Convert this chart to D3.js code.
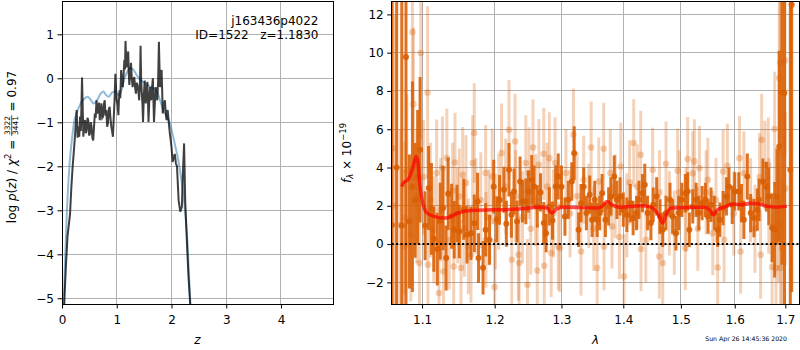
<!DOCTYPE html>
<html>
<head>
<meta charset="utf-8">
<script src="https://cdn.jsdelivr.net/npm/d3@7"></script>
<style>
  body { margin: 0; background: #fff; }
  svg text { font-family: "DejaVu Sans", sans-serif; white-space: pre; }
</style>
</head>
<body>
<svg id="chart" width="800" height="350"></svg>
<script>
// tick values
const zTicks = [0, 1, 2, 3, 4];
const logpTicks = [-5, -4, -3, -2, -1, 0, 1];
const lamTicks = [1.1, 1.2, 1.3, 1.4, 1.5, 1.6, 1.7];
const fluxTicks = [-2, 0, 2, 4, 6, 8, 10, 12];

// texts
const objName = "j163436p4022";
const objInfo = "ID=1522   z=1.1830";
const chiNum = "3322", chiDen = "3441", chiVal = "0.97";
const stamp = "Sun Apr 26 14:45:36 2020";

// p(z): smooth (blue) and raw (dark) curves, [z, log p]
const pzSmooth = [[0.0,-5.6],[0.03,-5.13],[0.06,-4.0],[0.09,-3.0],[0.135,-2.0],[0.18,-1.4],[0.22,-1.0],[0.27,-0.78],
  [0.33,-0.6],[0.40,-0.47],[0.47,-0.42],[0.53,-0.5],[0.58,-0.57],[0.64,-0.5],[0.70,-0.36],[0.755,-0.3],[0.80,-0.37],
  [0.85,-0.42],[0.91,-0.33],[0.97,-0.3],[1.03,-0.38],[1.08,-0.3],[1.13,-0.05],[1.18,0.12],[1.243,0.23],[1.30,0.2],
  [1.36,0.08],[1.43,-0.04],[1.50,-0.1],[1.60,-0.18],[1.73,-0.3],[1.85,-0.72],[1.97,-1.02],[2.07,-1.55],[2.13,-1.9],
  [2.18,-2.3],[2.24,-2.9],[2.29,-3.7],[2.34,-5.0],[2.36,-5.6]];

const pzRaw = [[0.03,-5.6],[0.045,-5.0],[0.07,-4.3],[0.10,-3.6],[0.146,-3.1],[0.17,-2.5],[0.195,-2.0],[0.22,-1.6],
  [0.238,-1.3],[0.25,-1.05],[0.268,-0.72],[0.285,-1.35],[0.30,-1.1],[0.315,-1.33],[0.33,-0.87],[0.345,-1.2],[0.366,0.02],
  [0.39,-1.33],[0.405,-1.0],[0.42,-0.95],[0.435,-1.25],[0.45,-1.18],[0.465,-0.9],[0.48,-0.95],[0.495,-1.3],[0.51,-1.26],
  [0.525,-1.0],[0.54,-1.1],[0.555,-1.35],[0.57,-1.41],[0.585,-1.1],[0.60,-0.8],[0.615,-0.9],[0.63,-0.5],[0.645,-0.8],
  [0.66,-0.72],[0.675,-0.55],[0.69,-0.95],[0.705,-0.75],[0.72,-0.57],[0.735,-0.9],[0.75,-0.87],[0.765,-0.6],[0.78,-0.5],
  [0.795,-0.85],[0.81,-0.72],[0.825,-1.1],[0.84,-1.02],[0.855,-0.7],[0.87,-0.65],[0.885,-0.9],[0.90,-1.1],[0.915,-1.2],
  [0.93,-1.33],[0.945,-0.9],[0.96,-0.5],[0.975,0.1],[0.99,-0.3],[1.0,-0.5],[1.015,-0.6],[1.03,-0.84],[1.04,-0.5],
  [1.05,-0.27],[1.065,-0.45],[1.08,0.19],[1.095,-0.1],[1.11,-0.2],[1.125,0.1],[1.14,0.42],[1.15,0.2],[1.16,0.85],
  [1.17,0.5],[1.18,0.25],[1.195,0.45],[1.21,0.61],[1.22,0.1],[1.23,-0.15],[1.245,0.1],[1.26,0.35],[1.275,0.0],
  [1.29,-0.2],[1.305,-0.05],[1.32,0.03],[1.335,-0.2],[1.35,-0.35],[1.365,-0.1],[1.38,-0.15],[1.395,-0.3],[1.41,-0.5],
  [1.425,-0.1],[1.435,0.74],[1.445,0.0],[1.455,-0.27],[1.47,-0.6],[1.48,-0.99],[1.495,-0.4],[1.51,-0.05],[1.52,-0.3],
  [1.53,-0.57],[1.545,-0.3],[1.56,-0.08],[1.57,-0.5],[1.58,-0.99],[1.595,-0.5],[1.61,-0.2],[1.62,-0.35],[1.63,-0.5],
  [1.645,-0.2],[1.66,0.0],[1.67,-0.5],[1.68,-0.99],[1.695,-0.6],[1.71,-0.2],[1.725,-0.35],[1.74,-0.5],[1.755,-0.1],
  [1.77,0.83],[1.78,0.3],[1.79,-0.2],[1.805,0.0],[1.82,0.19],[1.83,-0.3],[1.84,-0.8],[1.86,-0.6],[1.88,-0.5],
  [1.895,-0.8],[1.91,-0.95],[1.93,-0.72],[1.95,-1.0],[1.97,-1.26],[1.985,-1.4],[2.0,-1.56],[2.02,-1.9],[2.04,-1.8],
  [2.06,-1.72],[2.08,-1.93],[2.10,-2.0],[2.13,-2.77],[2.16,-3.03],[2.19,-2.92],[2.21,-2.1],[2.23,-1.48],[2.25,-2.77],
  [2.28,-3.67],[2.31,-4.5],[2.34,-5.1],[2.36,-5.6]];

// spectrum, [lambda, flux, error]: light (fine sampling) and dark (binned)
const specLight = [[1.062,5.0,9],[1.065,2.0,10],[1.0714,1.0,5],[1.0757,-0.12,4],[1.0779,1.36,4],[1.0801,3.83,4],
  [1.0853,0.5,3.5],[1.0874,11.08,4],[1.0887,7.31,4],[1.0931,2.5,3.5],[1.0965,-0.99,3.5],[1.0983,9.98,4.5],[1.1018,3.5,3],
  [1.1073,7.92,4.5],[1.1078,-1.08,3],[1.111,2.3,3],[1.1156,0.75,2.8],[1.1194,3.71,2.8],[1.1225,-2.56,2.8],[1.1249,1.8,2.7],
  [1.1272,3.97,2.7],[1.1286,-1.43,2.6],[1.1332,4.49,2.6],[1.1364,0.22,2.6],[1.1411,2.8,2.5],[1.1425,-1.17,2.5],
  [1.1443,4.26,2.6],[1.148,1.5,2.5],[1.1502,2.49,2.5],[1.1526,-1.25,2.5],[1.1549,3.62,2.5],[1.1571,0.8,2.5],
  [1.1595,3.19,2.5],[1.1627,-0.12,2.5],[1.1664,-0.56,2.5],[1.1687,4.23,2.5],[1.171,5.8,2.6],[1.1733,2.0,2.5],
  [1.1802,2.3,2.5],[1.1871,3.71,2.5],[1.1875,0.22,2.5],[1.1917,1.4,2.5],[1.1964,3.53,2.5],[1.200,-2.25,2.5],
  [1.201,1.18,2.5],[1.2059,2.2,2.5],[1.2099,4.75,2.6],[1.2159,3.0,2.5],[1.2208,5.97,2.6],[1.2248,-0.82,2.4],
  [1.2297,5.36,2.5],[1.2307,2.5,2.4],[1.2347,-0.56,2.4],[1.2356,-0.99,2.4],[1.2407,1.4,2.4],[1.2456,4.23,2.5],
  [1.2481,-2.13,2.4],[1.2504,3.71,2.4],[1.253,0.8,2.4],[1.2564,5.05,2.5],[1.2604,2.3,2.4],[1.2629,-1.38,2.4],
  [1.2653,4.14,2.4],[1.2727,4.72,2.4],[1.2735,-1.13,2.3],[1.2777,3.0,2.3],[1.2812,4.49,2.4],[1.2841,-0.47,2.3],
  [1.2876,1.6,2.3],[1.2901,4.23,2.4],[1.295,-0.12,2.3],[1.2975,-0.21,2.3],[1.307,3.71,2.3],[1.3135,1.6,2.3],
  [1.3188,5.71,2.4],[1.3244,2.5,2.3],[1.3308,-0.39,2.3],[1.3351,3.36,2.3],[1.3432,2.0,2.2],[1.3471,5.05,2.4],
  [1.3513,0.8,2.2],[1.3568,-1.25,2.3],[1.3594,3.27,2.3],[1.3675,4.98,2.4],[1.368,-0.12,2.3],[1.3784,3.71,2.3],
  [1.3812,0.92,2.2],[1.3865,2.5,2.2],[1.3935,0.37,2.2],[1.3958,4.05,2.3],[1.4012,-1.69,2.2],[1.406,1.5,2.2],
  [1.4106,3.22,2.2],[1.4176,5.28,2.3],[1.4236,3.0,2.2],[1.4295,4.67,2.3],[1.430,-0.26,2.2],[1.4383,0.22,2.2],
  [1.4501,3.88,2.2],[1.4617,-0.65,2.2],[1.462,2.7,2.2],[1.4677,-0.99,2.2],[1.4735,4.2,2.2],[1.4794,1.6,2.2],
  [1.4882,0.6,2.2],[1.4942,3.83,2.2],[1.497,2.7,2.2],[1.508,-0.21,2.2],[1.5092,1.8,2.2],[1.5123,4.44,2.2],
  [1.5215,3.7,2.2],[1.5245,4.32,2.2],[1.5307,0.8,2.2],[1.5337,3.97,2.2],[1.5461,2.7,2.2],[1.5492,3.36,2.2],
  [1.5584,0.57,2.2],[1.5645,2.3,2.2],[1.5676,-1.22,2.2],[1.5779,3.79,2.2],[1.5797,0.22,2.2],[1.586,4.09,2.2],
  [1.5982,1.6,2.2],[1.6092,4.49,2.2],[1.6112,-0.39,2.2],[1.6176,3.7,2.2],[1.6308,2.3,2.2],[1.6392,0.8,2.3],
  [1.6484,3.5,2.3],[1.6504,-0.56,2.3],[1.6524,5.45,2.4],[1.6588,4.14,2.3],[1.6655,4.11,2.5],[1.6667,2.0,2.5],
  [1.6733,-1.2,2.8],[1.6784,6.01,3],[1.6812,-1.25,3],[1.6863,1.0,3],[1.6876,8.67,4],[1.6896,9.49,4],
  [1.690,-1.25,3.5],[1.6929,-0.2,3.5],[1.6994,9.59,5],[1.6998,2.9,4]];

const specDark = [[1.061,1.0,15],[1.067,4.0,15],[1.0736,0.97,15],[1.079,9.77,14],[1.0835,1.18,3.5],[1.0874,3.0,5.5],
  [1.0909,2.28,3.0],[1.0942,3.5,3.5],[1.0974,4.93,3.8],[1.1041,0.96,1.8],[1.1087,2.93,2.2],[1.1124,1.84,2.4],
  [1.1156,0.26,1.7],[1.1203,-0.26,1.9],[1.1242,1.2,2.0],[1.1281,1.88,2.2],[1.1322,-0.73,1.7],[1.135,2.63,1.9],
  [1.1397,1.45,1.7],[1.1433,0.75,1.5],[1.147,1.6,1.5],[1.1502,0.66,1.4],[1.1563,1.83,1.6],[1.1609,0.49,1.5],
  [1.1664,0.57,1.4],[1.171,1.09,1.5],[1.1757,2.23,1.5],[1.177,-0.73,1.3],[1.1834,-1.24,1.4],[1.1871,0.75,1.4],
  [1.1927,0.22,1.3],[1.1986,3.0,1.4],[1.203,1.3,1.2],[1.207,2.31,1.3],[1.2134,2.84,1.2],[1.2169,1.06,1.2],
  [1.2208,3.88,1.4],[1.2243,1.53,1.2],[1.2282,2.75,1.2],[1.2326,1.18,1.1],[1.2371,3.27,1.3],[1.2407,2.23,1.1],
  [1.2456,2.23,1.2],[1.2496,2.75,1.1],[1.2545,3.36,1.3],[1.2579,3.01,1.1],[1.2629,1.97,1.1],[1.2678,2.7,1.0],
  [1.2727,1.1,1.1],[1.2763,0.57,1.0],[1.2812,1.97,1.0],[1.2861,1.23,1.0],[1.2911,3.01,1.1],[1.295,3.53,1.2],
  [1.300,3.0,1.1],[1.3054,1.44,1.0],[1.3107,2.31,1.0],[1.3162,3.27,1.0],[1.32,4.75,1.4],[1.327,0.75,0.9],
  [1.3308,2.14,1.0],[1.3351,3.0,1.0],[1.3394,1.62,0.9],[1.3448,2.58,1.0],[1.3487,1.27,0.9],[1.3529,2.31,1.0],
  [1.3568,1.27,0.9],[1.361,1.62,0.9],[1.3649,2.66,1.0],[1.3703,1.27,0.9],[1.3756,1.97,1.0],[1.3795,2.49,1.0],
  [1.3849,3.53,1.1],[1.3893,2.31,1.0],[1.3946,2.49,1.0],[1.400,1.8,0.9],[1.406,1.53,0.9],[1.4118,2.14,1.0],
  [1.4166,1.36,0.9],[1.4224,1.62,0.9],[1.4265,2.31,1.0],[1.4325,2.66,1.0],[1.4365,3.1,1.1],[1.4413,1.62,0.9],
  [1.4471,1.1,0.9],[1.4511,2.05,0.9],[1.4571,2.49,1.0],[1.463,1.44,0.9],[1.4677,0.75,0.9],[1.4735,1.62,0.9],
  [1.4806,2.31,0.9],[1.4853,1.44,0.9],[1.4912,0.57,0.9],[1.4959,1.62,0.9],[1.5018,2.31,0.9],[1.508,2.66,1.0],
  [1.5123,2.75,1.0],[1.5153,0.75,0.9],[1.5215,1.97,0.9],[1.5276,2.31,0.9],[1.5326,1.62,0.9],[1.5387,2.14,0.9],
  [1.5448,2.31,0.9],[1.5497,1.44,0.9],[1.5552,2.05,0.9],[1.5613,1.62,0.9],[1.5676,0.75,0.9],[1.5718,1.27,0.9],
  [1.5779,1.88,0.9],[1.5842,2.49,1.0],[1.589,3.0,1.0],[1.5952,2.05,1.0],[1.600,2.75,1.0],[1.6078,2.75,1.0],
  [1.6131,2.14,1.0],[1.6176,1.27,1.0],[1.6243,3.53,1.2],[1.6308,1.62,1.0],[1.6373,1.36,1.0],[1.6439,1.8,1.1],
  [1.6471,2.31,1.1],[1.6549,3.27,1.2],[1.6616,3.0,1.3],[1.6667,2.49,1.5],[1.6733,0.85,1.8],[1.6784,0.75,2.5],
  [1.6831,2.49,2.5],[1.6876,5.1,5],[1.6929,7.92,9],[1.698,7.89,15],[1.7102,3.88,15],[1.713,12.5,15]];

// best-fit model, [lambda, flux]
const specModel = [[1.0736,3.0],[1.0756,3.19],[1.0822,3.4],[1.088,4.0],[1.0922,4.58],[1.0945,4.3],[1.0974,3.0],
  [1.101,2.14],[1.1065,1.62],[1.1156,1.45],[1.1295,1.36],[1.1342,1.38],[1.148,1.62],[1.1664,1.76],[1.1986,1.79],
  [1.2332,1.83],[1.2678,1.93],[1.2777,1.88],[1.2851,1.62],[1.2926,1.84],[1.3026,1.93],[1.3568,1.88],[1.3649,1.97],
  [1.373,2.23],[1.3812,2.05],[1.3946,1.93],[1.4295,2.0],[1.4471,1.93],[1.4617,1.45],[1.4677,1.1],[1.4735,1.53],
  [1.4824,1.88],[1.543,1.93],[1.5522,1.8],[1.5584,1.53],[1.5676,1.8],[1.5797,1.93],[1.5982,2.1],[1.6112,2.05],
  [1.6308,2.14],[1.6471,2.1],[1.6635,1.97],[1.6831,1.93],[1.703,1.97]];

const svg = d3.select("#chart");
const L = { x0: 62, x1: 333, y0: 1, y1: 304 };
const R = { x0: 391.7, x1: 799.3, y0: 1, y1: 304 };

const xZ = d3.scaleLinear().domain([0, 4.95]).range([L.x0, L.x1]);
const yP = d3.scaleLinear().domain([-5.13, 1.757]).range([L.y1, L.y0]);
const xW = d3.scaleLog().domain([1.0607, 1.7287]).range([R.x0, R.x1]);
const yF = d3.scaleLinear().domain([-3.13, 12.7]).range([R.y1, R.y0]);

const defs = svg.append("defs");
[["clipL", L], ["clipR", R]].forEach(([id, b]) => {
  defs.append("clipPath").attr("id", id).append("rect")
    .attr("x", b.x0).attr("y", b.y0).attr("width", b.x1 - b.x0).attr("height", b.y1 - b.y0);
});

// grid lines
function grid(b, xs, ys, xScale, yScale) {
  const g = svg.append("g").attr("stroke", "#b0b0b0").attr("stroke-width", 1).attr("shape-rendering", "crispEdges");
  g.selectAll(".gx").data(xs).enter().append("line")
    .attr("x1", d => xScale(d)).attr("x2", d => xScale(d)).attr("y1", b.y0).attr("y2", b.y1);
  g.selectAll(".gy").data(ys).enter().append("line")
    .attr("x1", b.x0).attr("x2", b.x1).attr("y1", d => yScale(d)).attr("y2", d => yScale(d));
}
grid(L, zTicks, logpTicks, xZ, yP);
grid(R, lamTicks, fluxTicks, xW, yF);

// left panel: p(z)
const gl = svg.append("g").attr("clip-path", "url(#clipL)");
gl.append("path").datum(pzSmooth)
  .attr("fill", "none").attr("stroke", "#1f77b4").attr("stroke-opacity", 0.5).attr("stroke-width", 2)
  .attr("d", d3.line().x(d => xZ(d[0])).y(d => yP(d[1])).curve(d3.curveMonotoneX));
gl.append("path").datum(pzRaw)
  .attr("fill", "none").attr("stroke", "#000").attr("stroke-opacity", 0.75).attr("stroke-width", 2)
  .attr("d", d3.line().x(d => xZ(d[0])).y(d => yP(d[1])));

// right panel: spectrum
const gr = svg.append("g").attr("clip-path", "url(#clipR)");
function errbars(data, op, mop, r) {
  const g = gr.append("g");
  g.selectAll("line").data(data).enter().append("line")
    .attr("x1", d => xW(d[0])).attr("x2", d => xW(d[0]))
    .attr("y1", d => yF(d[1] - d[2])).attr("y2", d => yF(d[1] + d[2]))
    .attr("stroke", "#d95f02").attr("stroke-opacity", op).attr("stroke-width", 3);
  g.selectAll("circle").data(data).enter().append("circle")
    .attr("cx", d => xW(d[0])).attr("cy", d => yF(d[1])).attr("r", r)
    .attr("fill", "#d95f02").attr("fill-opacity", mop);
}
errbars(specLight, 0.28, 0.3, 3.3);
errbars(specDark, 0.88, 0.9, 3);

gr.append("path").datum(specModel)
  .attr("fill", "none").attr("stroke", "red").attr("stroke-opacity", 0.7).attr("stroke-width", 3.5)
  .attr("d", d3.line().x(d => xW(d[0])).y(d => yF(d[1])).curve(d3.curveMonotoneX));

gr.append("line")
  .attr("x1", R.x0).attr("x2", R.x1).attr("y1", yF(0)).attr("y2", yF(0))
  .attr("stroke", "#000").attr("stroke-width", 2).attr("stroke-dasharray", "2,2.4");

// axes
function styleAxis(g) {
  g.select(".domain").remove();
  g.attr("font-family", "DejaVu Sans").attr("font-size", 12);
  g.selectAll("text").attr("fill", "#000");
  g.selectAll("line").attr("stroke", "#000").attr("stroke-width", 1);
}
function axes(b, xScale, yScale, xt, yt, xf, yf) {
  svg.append("g").attr("transform", `translate(0,${b.y1})`)
    .call(d3.axisBottom(xScale).tickValues(xt).tickFormat(xf).tickSize(4.5).tickPadding(7))
    .call(styleAxis);
  svg.append("g").attr("transform", `translate(${b.x0},0)`)
    .call(d3.axisLeft(yScale).tickValues(yt).tickFormat(yf).tickSize(4.5).tickPadding(3.5))
    .call(styleAxis);
  svg.append("rect").attr("x", b.x0).attr("y", b.y0).attr("width", b.x1 - b.x0).attr("height", b.y1 - b.y0)
    .attr("fill", "none").attr("stroke", "#000").attr("stroke-width", 1).attr("shape-rendering", "crispEdges");
}
axes(L, xZ, yP, zTicks, logpTicks, d3.format("d"), d3.format("d"));
axes(R, xW, yF, lamTicks, fluxTicks, d3.format(".1f"), d3.format("d"));

// annotation in left panel
svg.append("text").attr("x", 318.5).attr("y", 25).attr("text-anchor", "end").attr("font-size", 12).text(objName);
svg.append("text").attr("x", 318.5).attr("y", 38.5).attr("text-anchor", "end").attr("font-size", 12).text(objInfo);

// x labels
svg.append("text").attr("x", (L.x0 + L.x1) / 2).attr("y", 344).attr("text-anchor", "middle")
  .attr("font-size", 12).attr("font-style", "italic").text("z");
svg.append("text").attr("x", (R.x0 + R.x1) / 2).attr("y", 344).attr("text-anchor", "middle")
  .attr("font-size", 12).attr("font-style", "italic").text("λ");

// left y label with fraction
const yl = svg.append("g");
const t1 = yl.append("text").attr("font-size", 12);
t1.append("tspan").text("log ");
t1.append("tspan").attr("font-style", "italic").text("p");
t1.append("tspan").text("(");
t1.append("tspan").attr("font-style", "italic").text("z");
t1.append("tspan").text(") / ");
t1.append("tspan").attr("font-style", "italic").text("χ");
t1.append("tspan").attr("font-size", 8.5).attr("dy", -5).text("2");
t1.append("tspan").attr("dy", 5).text(" = ");
const w1 = t1.node().getComputedTextLength();
const num = yl.append("text").attr("font-size", 7.5).attr("y", -5.6).attr("text-anchor", "middle").text(chiNum);
const den = yl.append("text").attr("font-size", 7.5).attr("y", 2).attr("text-anchor", "middle").text(chiDen);
const fw = Math.max(num.node().getComputedTextLength(), den.node().getComputedTextLength()) + 1.5;
num.attr("x", w1 + fw / 2);
den.attr("x", w1 + fw / 2);
yl.append("line").attr("x1", w1).attr("x2", w1 + fw).attr("y1", -4.3).attr("y2", -4.3)
  .attr("stroke", "#000").attr("stroke-width", 0.7);
const t3 = yl.append("text").attr("font-size", 12).attr("x", w1 + fw).text(" = " + chiVal);
const totL = w1 + fw + t3.node().getComputedTextLength();
yl.attr("transform", `translate(16,${147 + totL / 2}) rotate(-90)`);

// right y label
const yr = svg.append("g");
const t4 = yr.append("text").attr("font-size", 12);
t4.append("tspan").attr("font-style", "italic").text("f");
t4.append("tspan").attr("font-style", "italic").attr("font-size", 8.5).attr("dy", 2.5).text("λ");
t4.append("tspan").attr("dy", -2.5).text(" × 10");
t4.append("tspan").attr("font-size", 8.5).attr("dy", -5).text("−19");
const totR = t4.node().getComputedTextLength();
yr.attr("transform", `translate(350.5,${153 + totR / 2}) rotate(-90)`);

// timestamp
svg.append("text").attr("x", 787).attr("y", 340.5).attr("text-anchor", "end").attr("font-size", 6.2)
  .attr("fill", "#000").text(stamp);
</script>
</body>
</html>
